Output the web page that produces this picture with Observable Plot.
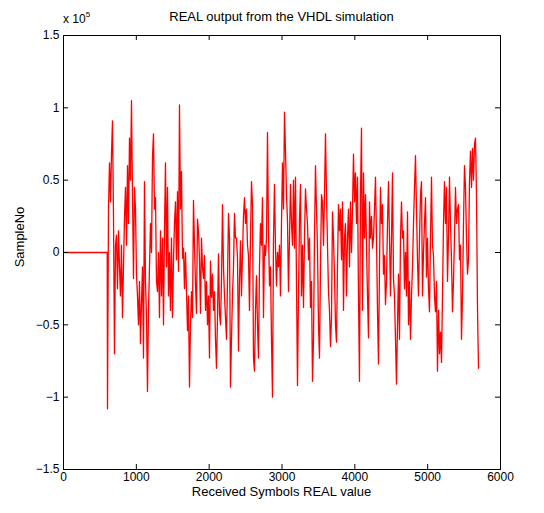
<!DOCTYPE html>
<html>
<head>
<meta charset="utf-8">
<script src="https://cdn.jsdelivr.net/npm/d3@7"></script>
<script src="https://cdn.jsdelivr.net/npm/@observablehq/plot@0.6"></script>
<style>
  html, body { margin: 0; padding: 0; background: #fff; }
  #wrap { position: relative; width: 544px; height: 513px; font-family: "Liberation Sans", Arial, Helvetica, sans-serif; color: #000; }
  .lbl { position: absolute; white-space: nowrap; line-height: 1; }
</style>
</head>
<body>
<div id="wrap"></div>
<script>
// ---- data (values in units of 10^5) ----
const titleText = "REAL output from the VHDL simulation";
const xLabel = "Received Symbols REAL value";
const yLabel = "SampleNo";
const xTicks = [0, 1000, 2000, 3000, 4000, 5000, 6000];
const yTicks = [-1.5, -1, -0.5, 0, 0.5, 1, 1.5];

// leading idle (zero) segment
const idleX = [0, 600];
const idleY = [0, 0];

// received samples, every 13.7 samples
const sampleStart = 604;
const sampleStep = 13.73;
const sampleY = [
  -1.08, 0.3, 0.62, 0.35, 0.68, 0.91, 0.25, -0.70, 0.05, 0.12,
  -0.25, 0.15, -0.1, -0.3, 0.05, -0.45, -0.1, 0.24, 0.45, 0.05,
  0.6, 0.2, 0.79, 0.5, 1.05, 0.4, -0.18, 0.45, 0.3, -0.15,
  -0.3, -0.5, -0.2, -0.63, -0.35, -0.1, -0.73, 0.49, -0.2, -0.45,
  -0.96, -0.4, -0.1, 0.2, 0.0, 0.66, 0.82, 0.3, 0.38, -0.2,
  -0.27, 0.0, -0.45, 0.15, -0.3, 0.1, -0.5, 0.15, 0.62, -0.1,
  0.45, -0.3, 0.0, -0.4, 0.1, -0.45, -0.05, 0.2, 0.35, -0.05,
  0.42, -0.13, 1.02, 0.3, 0.56, -0.04, 0.03, -0.25, 0.0, -0.27,
  -0.54, -0.3, -0.93, -0.5, -0.27, -0.45, 0.36, 0.05, -0.22, -0.42,
  0.23, 0.15, -0.05, -0.42, 0.1, -0.1, -0.18, -0.02, -0.4, -0.2,
  -0.5, -0.3, -0.73, -0.06, -0.31, -0.15, -0.4, -0.27, -0.6, -0.8,
  -0.45, -0.01, -0.42, -0.5, -0.2, 0.33, -0.1, -0.3, -0.45, -0.6,
  -0.2, 0.27, 0.1, -0.93, -0.6, -0.29, -0.1, 0.27, 0.1, 0.1,
  -0.04, -0.68, -0.2, 0.08, -0.3, 0.0, 0.25, 0.38, 0.2, 0.3,
  0.05, -0.02, -0.4, 0.1, 0.49, 0.33, -0.73, -0.82, -0.4, -0.16,
  -0.5, -0.73, -0.1, 0.2, 0.05, 0.38, -0.45, 0.05, -0.02, 0.1,
  0.83, 0.15, -0.23, -0.1, -0.6, -1.0, 0.1, 0.47, 0.03, -0.23,
  0.0, -0.1, 0.05, -0.3, 0.2, 0.62, 0.3, 0.97, 0.7, 0.4,
  0.22, -0.27, 0.1, 0.47, 0.2, 0.05, 0.5, 0.03, 0.52, -0.2,
  -0.92, -0.3, 0.22, 0.47, -0.3, 0.05, -0.38, 0.1, 0.44, 0.3,
  0.2, -0.05, 0.1, -0.38, -0.2, -0.89, -0.6, 0.1, 0.6, 0.3,
  0.03, -0.5, -0.73, -0.1, 0.4, 0.35, 0.05, 0.4, 0.82, 0.4,
  0.05, -0.27, -0.4, -0.65, -0.45, 0.28, 0.1, -0.15, -0.5, -0.62,
  -0.1, 0.33, 0.15, 0.3, -0.05, 0.35, -0.4, 0.1, 0.2, -0.3,
  0.1, 0.3, -0.1, 0.35, 0.0, 0.3, 0.68, 0.35, 0.55, 0.2,
  0.52, -0.3, -0.89, 0.4, 0.86, -0.4, 0.55, 0.1, 0.4, 0.05,
  -0.3, -0.59, 0.35, 0.1, 0.25, 0.03, 0.1, 0.3, 0.52, 0.1,
  -0.4, -0.77, -0.1, 0.45, 0.2, 0.33, -0.15, -0.02, -0.36, -0.2,
  0.2, 0.49, 0.1, -0.3, 0.1, 0.55, -0.18, -0.3, -0.6, -0.91,
  -0.5, -0.15, -0.6, 0.1, 0.35, 0.1, 0.15, -0.25, 0.0, -0.3,
  0.28, -0.5, -0.2, -0.6, -0.3, -0.1, 0.2, 0.45, 0.67, 0.3,
  -0.05, -0.3, 0.1, 0.4, 0.49, -0.3, 0.0, 0.2, 0.38, -0.17,
  0.1, -0.25, -0.41, 0.1, 0.52, 0.05, -0.02, -0.3, -0.41, -0.2,
  -0.82, -0.4, -0.7, -0.55, -0.76, -0.3, 0.2, 0.49, 0.2, 0.45,
  -0.2, 0.1, 0.52, 0.2, -0.05, -0.41, -0.2, 0.1, 0.45, 0.2,
  0.3, 0.33, -0.05, 0.05, -0.6, -0.3, 0.2, 0.6, 0.45, 0.1,
  -0.15, -0.05, 0.5, 0.7, 0.45, 0.72, 0.5, 0.75, 0.79, 0.4,
  -0.38, -0.8
];

// ---- build table ----
const points = [
  ...idleX.map((x, i) => ({x, y: idleY[i]})),
  ...sampleY.map((y, i) => ({x: sampleStart + i * sampleStep, y}))
];

const fmtY = d => (d < 0 ? "\u2212" : "") + Math.abs(d);
const fmtX = d => String(d);

// frame is 437 x 434 px; ticks are 5 px long, pointing inward
const TICK = 5, FW = 437, FH = 434;

const chart = Plot.plot({
  width: 544,
  height: 513,
  marginLeft: 63,
  marginRight: 44,
  marginTop: 35,
  marginBottom: 44,
  style: {fontSize: "12px", fontFamily: "'Liberation Sans', Arial, Helvetica, sans-serif", color: "#000", background: "#fff", overflow: "visible"},
  x: {domain: [0, 6000]},
  y: {domain: [-1.5, 1.5]},
  marks: [
    Plot.line(points, {x: "x", y: "y", stroke: "#ff0000", strokeWidth: 1.3}),
    // inward ticks on all four sides
    Plot.tickX(xTicks, {x: d => d, insetTop: FH - TICK, stroke: "#000"}),
    Plot.tickX(xTicks, {x: d => d, insetBottom: FH - TICK, stroke: "#000"}),
    Plot.tickY(yTicks, {y: d => d, insetRight: FW - TICK, stroke: "#000"}),
    Plot.tickY(yTicks, {y: d => d, insetLeft: FW - TICK, stroke: "#000"}),
    Plot.frame({stroke: "#000", strokeWidth: 1}),
    // tick labels
    Plot.axisX(xTicks, {anchor: "bottom", tickSize: 0, tickPadding: 3, tickFormat: fmtX, label: null}),
    Plot.axisY(yTicks, {anchor: "left", tickSize: 0, tickPadding: 4, tickFormat: fmtY, label: null})
  ]
});

const wrap = document.getElementById("wrap");
wrap.appendChild(chart);

function addLabel(html, css) {
  const d = document.createElement("div");
  d.className = "lbl";
  d.innerHTML = html;
  Object.assign(d.style, css);
  wrap.appendChild(d);
  return d;
}
addLabel(titleText, {left: "63px", width: "437px", textAlign: "center", top: "10px", fontSize: "13px"});
addLabel('x 10<sup style="font-size:8px;position:relative;top:-1px;">5</sup>', {left: "63px", top: "12px", fontSize: "12px"});
addLabel(xLabel, {left: "63px", width: "437px", textAlign: "center", top: "485px", fontSize: "13px"});
addLabel(yLabel, {left: "19px", top: "237px", fontSize: "13px", transform: "translate(-50%, -50%) rotate(-90deg)"});
</script>
</body>
</html>
